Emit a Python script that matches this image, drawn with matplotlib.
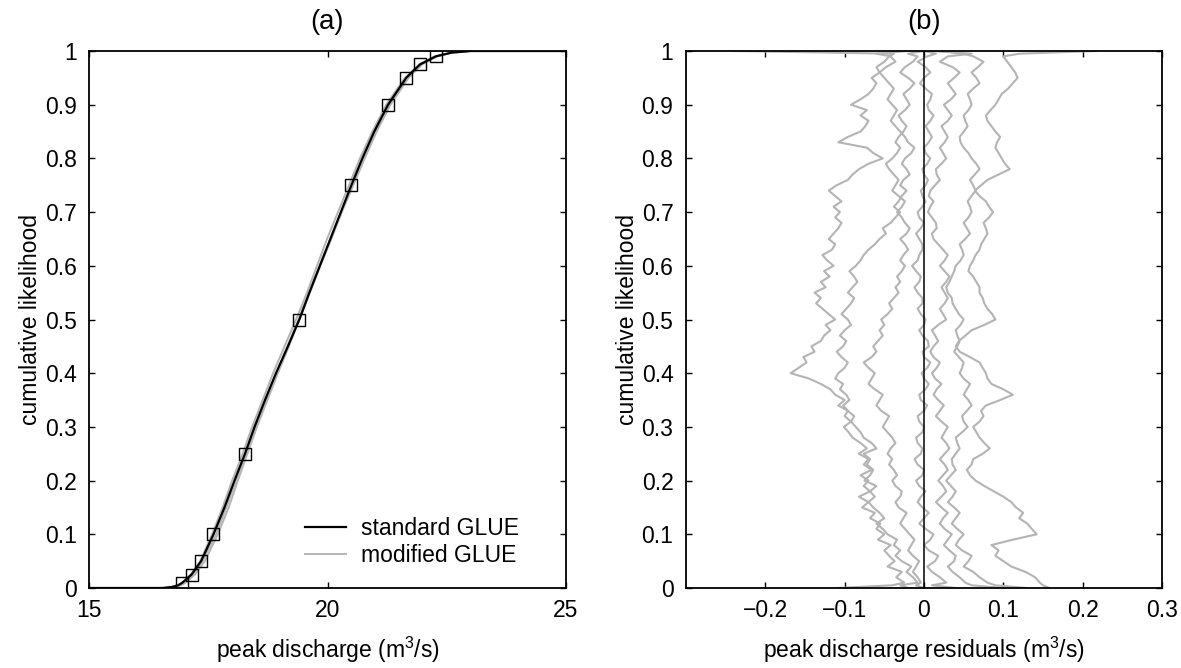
import matplotlib

matplotlib.use("Agg")
import matplotlib.pyplot as plt
import numpy as np
from matplotlib.ticker import FuncFormatter

plt.rcParams["font.family"] = ["Liberation Sans", "DejaVu Sans"]
plt.rcParams["font.size"] = 16.5
plt.rcParams["mathtext.fontset"] = "custom"
plt.rcParams["mathtext.rm"] = "Liberation Sans"
plt.rcParams["mathtext.it"] = "Liberation Sans:italic"

GRAY = "#b4b4b4"

# ---- (a) cumulative likelihood of peak discharge ----
CDF_P = [0, 0, 0.002, 0.005, 0.01, 0.025, 0.05, 0.1, 0.15, 0.2, 0.25, 0.3, 0.35, 0.4,
         0.45, 0.5, 0.55, 0.6, 0.65, 0.7, 0.75, 0.8, 0.85, 0.9, 0.95, 0.975, 0.99,
         0.997, 1.0, 1.0]
STD_X = [15.0, 16.55, 16.75, 16.87, 16.96, 17.15, 17.35, 17.61, 17.84, 18.05, 18.27,
         18.47, 18.69, 18.92, 19.17, 19.41, 19.62, 19.84, 20.06, 20.28, 20.50, 20.73,
         20.98, 21.27, 21.65, 21.94, 22.27, 22.60, 23.0, 25.0]
MOD_X = [
    [15.0, 16.60, 16.82, 16.93, 17.03, 17.22, 17.43, 17.70, 17.93, 18.12, 18.32, 18.52,
     18.74, 18.96, 19.19, 19.41, 19.63, 19.85, 20.08, 20.30, 20.54, 20.78, 21.03, 21.32,
     21.70, 21.98, 22.30, 22.62, 23.0, 25.0],
    [15.0, 16.50, 16.72, 16.85, 16.95, 17.13, 17.33, 17.58, 17.80, 18.00, 18.22, 18.42,
     18.64, 18.86, 19.10, 19.34, 19.57, 19.78, 19.99, 20.22, 20.45, 20.68, 20.94, 21.23,
     21.62, 21.92, 22.25, 22.60, 23.0, 25.0],
    [15.0, 16.60, 16.78, 16.90, 16.99, 17.18, 17.38, 17.66, 17.88, 18.08, 18.29, 18.49,
     18.70, 18.93, 19.16, 19.39, 19.61, 19.83, 20.06, 20.29, 20.53, 20.77, 21.02, 21.31,
     21.68, 21.96, 22.28, 22.62, 23.0, 25.0],
]
QUANT_P = [0.01, 0.025, 0.05, 0.1, 0.25, 0.5, 0.75, 0.9, 0.95, 0.975, 0.99]
QUANT_X = [16.96, 17.15, 17.35, 17.61, 18.27, 19.41, 20.50, 21.27, 21.65, 21.94, 22.27]

# ---- (b) residuals of modified vs standard GLUE quantiles ----
# cumulative likelihood levels: 0, 0.005, 0.01 ... 0.99, 0.995, 1
RES_P = np.r_[0.0, 0.005, np.arange(1, 100) / 100, 0.995, 1.0]
# residuals in 1e-3 m3/s, one row per behavioural run, same order as RES_P
RESIDUALS_MILLI = [
    [-110, -40,
     -25, -35, -28, -46, -37, -44, -50, -42, -58, -50,
     -60, -55, -68, -62, -78, -70, -82, -68, -76, -70,
     -80, -66, -76, -70, -82, -72, -80, -90, -95, -101,
     -92, -100, -96, -108, -100, -112, -118, -130, -145, -168,
     -158, -148, -152, -138, -142, -130, -126, -118, -124, -112,
     -120, -128, -136, -130, -138, -124, -130, -119, -126, -114,
     -122, -128, -116, -112, -120, -114, -108, -104, -112, -106,
     -114, -104, -112, -120, -110, -96, -90, -82, -70, -52,
     -64, -72, -108, -96, -80, -74, -70, -80, -72, -92,
     -80, -70, -64, -60, -66, -56, -60, -50, -44,
     -38, -240],
    [-20, -30,
     -8, -14, -22, -16, -28, -36, -30, -38, -34, -46,
     -52, -60, -50, -56, -64, -70, -62, -68, -60, -75,
     -68, -64, -72, -68, -76, -60, -66, -76, -80, -86,
     -92, -88, -96, -102, -94, -98, -106, -102, -112, -108,
     -100, -96, -104, -110, -102, -98, -106, -100, -92, -96,
     -104, -98, -92, -88, -96, -90, -84, -88, -94, -86,
     -80, -76, -70, -62, -56, -48, -52, -42, -36, -30,
     -38, -32, -28, -22, -30, -26, -18, -22, -28, -24,
     -16, -12, -20, -24, -30, -36, -42, -38, -34, -40,
     -46, -42, -38, -44, -50, -56, -48, -36, -42,
     -60, -20],
    [0, -10,
     -4, -8, -14, -10, -6, -14, -20, -16, -12, -18,
     -24, -30, -26, -22, -32, -36, -30, -28, -36, -40,
     -34, -38, -44, -40, -46, -42, -36, -40, -46, -52,
     -48, -44, -54, -60, -56, -52, -62, -70, -66, -62,
     -70, -76, -66, -60, -64, -58, -52, -56, -50, -54,
     -46, -40, -44, -38, -32, -36, -30, -34, -28, -24,
     -30, -26, -20, -24, -30, -22, -18, -24, -28, -34,
     -28, -24, -32, -40, -36, -32, -38, -44, -48, -40,
     -34, -30, -36, -32, -26, -22, -28, -32, -24, -18,
     -22, -26, -18, -12, -20, -30, -24, -14, -8,
     -20, 0],
    [40, 10,
     28, 20, 10, 4, 14, 18, 6, 0, 8, 12,
     2, -6, 0, 6, -2, -8, -4, 2, -6, -10,
     -2, 0, -8, -12, -4, -2, -8, -10, -2, 0,
     -6, -8, 0, 4, -4, -6, 2, 6, 0, -3,
     4, 8, 0, -2, 6, 5, -2, -6, 0, 2,
     -4, -8, -2, -2, -8, -12, -6, -4, -10, -15,
     -8, -6, -2, -2, -6, -10, -4, 0, -6, -8,
     -2, 2, -2, -4, 2, 5, 0, -2, 4, 8,
     2, 0, 6, 10, 6, 2, 8, 12, 6, 4,
     8, 10, 2, -5, 0, 8, 2, -8, 4,
     15, 0],
    [100, 60,
     52, 45, 36, 30, 38, 40, 32, 25, 30, 35,
     26, 20, 24, 30, 22, 15, 22, 28, 24, 18,
     24, 30, 26, 20, 26, 32, 28, 22, 26, 30,
     22, 15, 20, 25, 18, 12, 16, 22, 14, 10,
     16, 20, 12, 8, 12, 18, 14, 10, 18, 28,
     24, 20, 26, 30, 26, 22, 28, 32, 26, 20,
     26, 30, 24, 18, 12, 10, 16, 15, 10, 5,
     8, 12, 6, 8, 14, 20, 16, 15, 22, 28,
     24, 20, 26, 30, 26, 22, 30, 35, 30, 25,
     34, 40, 35, 30, 38, 45, 36, 20, 30,
     60, 10],
    [130, 90,
     80, 70, 62, 50, 56, 60, 48, 40, 44, 50,
     42, 35, 40, 45, 38, 30, 36, 40, 34, 28,
     34, 40, 36, 35, 40, 45, 42, 40, 48, 55,
     50, 48, 54, 60, 56, 50, 54, 58, 50, 45,
     48, 50, 44, 38, 42, 45, 42, 40, 46, 50,
     44, 40, 36, 35, 30, 28, 32, 35, 38, 40,
     46, 50, 48, 45, 52, 58, 54, 50, 56, 60,
     58, 55, 60, 65, 62, 58, 64, 70, 66, 60,
     56, 50, 46, 45, 50, 55, 52, 50, 56, 60,
     58, 55, 62, 70, 66, 60, 68, 75, 62,
     50, 20],
    [158, 150,
     146, 140, 128, 110, 100, 90, 94, 85, 112, 142,
     136, 130, 120, 125, 116, 110, 100, 88, 76, 65,
     58, 54, 60, 62, 74, 83, 76, 70, 66, 62,
     70, 75, 72, 78, 96, 112, 100, 85, 80, 78,
     74, 70, 58, 45, 40, 44, 52, 60, 76, 90,
     86, 80, 76, 74, 70, 70, 66, 62, 56, 58,
     62, 65, 70, 72, 76, 80, 78, 75, 82, 87,
     82, 78, 70, 64, 72, 80, 94, 108, 102, 98,
     94, 90, 92, 96, 90, 85, 80, 78, 84, 90,
     94, 98, 106, 112, 118, 115, 110, 105, 100,
     120, 217],
]


def style_axes(ax):
    ax.tick_params(direction="in", top=True, right=True, length=4, width=1.0)
    ax.tick_params(axis="x", pad=8)
    ax.tick_params(axis="y", pad=9)
    for sp in ax.spines.values():
        sp.set_linewidth(1.3)
    ax.set_ylim(0, 1)
    ax.set_yticks(np.arange(0, 1.01, 0.1))
    ax.yaxis.set_major_formatter(FuncFormatter(lambda v, p: f"{v:g}"))
    ax.set_ylabel("cumulative likelihood", labelpad=2)


def main():
    fig = plt.figure(figsize=(11.81, 6.68), dpi=100)
    ax1 = fig.add_axes([89 / 1181, 1 - 588 / 668, 477 / 1181, 537 / 668])
    ax2 = fig.add_axes([686 / 1181, 1 - 588 / 668, 476 / 1181, 537 / 668])

    # (a)
    for i, xs in enumerate(MOD_X):
        ax1.plot(xs, CDF_P, color=GRAY, lw=1.4,
                 label="modified GLUE" if i == 0 else None, zorder=2)
    ax1.plot(STD_X, CDF_P, color="black", lw=1.6, label="standard GLUE", zorder=3)
    ax1.plot(QUANT_X, QUANT_P, ls="none", marker="s", ms=8, mfc="none",
             mec="black", mew=1.0, zorder=4)
    ax1.set_xlim(15, 25)
    ax1.set_xticks([15, 20, 25])
    ax1.xaxis.set_major_formatter(FuncFormatter(lambda v, p: f"{v:g}"))
    style_axes(ax1)
    ax1.set_xlabel(r"peak discharge (m$^{3}$/s)", labelpad=9)
    ax1.set_title("(a)", pad=16)
    h, l = ax1.get_legend_handles_labels()
    ax1.legend(h[::-1], l[::-1], loc="center left", bbox_to_anchor=(0.453, 0.085),
               frameon=False, borderpad=0, borderaxespad=0, handlelength=1.8,
               handletextpad=0.65, labelspacing=0.18)

    # (b)
    for row in RESIDUALS_MILLI:
        ax2.plot(np.array(row) / 1000.0, RES_P, color=GRAY, lw=1.5, zorder=2)
    ax2.plot([0, 0], [0, 1], color="black", lw=1.1, zorder=3)
    ax2.set_xlim(-0.3, 0.3)
    ax2.set_xticks([-0.2, -0.1, 0, 0.1, 0.2, 0.3])
    ax2.xaxis.set_major_formatter(
        FuncFormatter(lambda v, p: f"{v:g}".replace("-", "\u2212")))
    style_axes(ax2)
    ax2.set_xlabel(r"peak discharge residuals (m$^{3}$/s)", labelpad=9)
    ax2.set_title("(b)", pad=16)

    fig.savefig("out.png", dpi=100)


if __name__ == "__main__":
    main()
